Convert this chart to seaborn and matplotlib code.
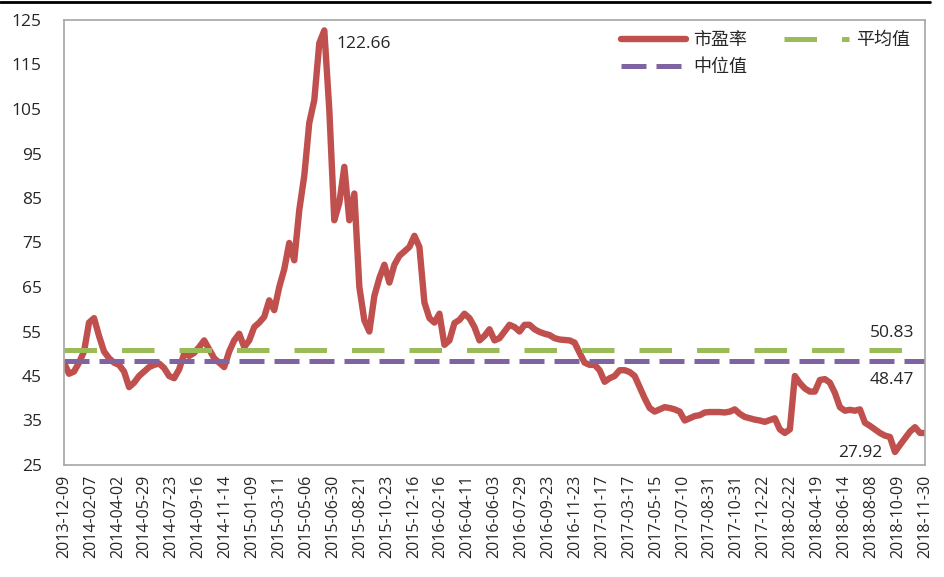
import matplotlib
matplotlib.use('Agg')
import matplotlib.pyplot as plt
from matplotlib.lines import Line2D
import numpy as np
import seaborn as sns

# P/E values, roughly one point per 7 trading days
pe = [48, 45.5, 46, 48, 50.5, 57, 58, 54, 50.5, 49,
      48, 47.5, 46, 42.5, 43.5, 45, 46, 47, 47.5, 47.8,
      46.8, 45, 44.5, 46.5, 50, 49.5, 50.2, 51.5, 53, 51,
      49, 48, 47, 50.5, 53, 54.5, 51.5, 53, 56, 57,
      58.3, 62, 59.8, 65, 69, 74.9, 71, 82.3, 90, 101.9,
      107, 119.8, 122.66, 104.8, 80, 83.9, 92, 80, 86, 65,
      57.5, 55, 63, 67, 70, 66, 70, 72, 73, 74,
      76.5, 74, 61.5, 58, 57, 59, 52, 53, 56.9, 57.6,
      59, 58, 56, 53, 54, 55.5, 53, 53.5, 55, 56.5,
      56, 55, 56.5, 56.5, 55.5, 54.9, 54.5, 54.2, 53.5, 53.2,
      53.1, 53, 52.5, 50.2, 48, 47.5, 47.5, 46.3, 43.7, 44.5,
      45, 46.3, 46.3, 45.9, 45, 42.5, 40, 37.8, 37, 37.5,
      38, 37.8, 37.5, 37, 35, 35.5, 36, 36.2, 36.8, 36.9,
      36.9, 36.9, 36.8, 37, 37.5, 36.5, 35.8, 35.5, 35.2, 35,
      34.7, 35.1, 35.5, 33, 32.2, 33, 45, 43.4, 42.2, 41.5,
      41.5, 44.1, 44.3, 43.5, 41.2, 38, 37.2, 37.4, 37.2, 37.5,
      34.5, 33.8, 33, 32.2, 31.6, 31.3, 27.92, 29.5, 31, 32.5,
      33.5, 32.2, 32.2]

mean_val = 50.83
median_val = 48.47

date_labels = ['2013-12-09', '2014-02-07', '2014-04-02', '2014-05-29', '2014-07-23',
               '2014-09-16', '2014-11-14', '2015-01-09', '2015-03-11', '2015-05-06',
               '2015-06-30', '2015-08-21', '2015-10-23', '2015-12-16', '2016-02-16',
               '2016-04-11', '2016-06-03', '2016-07-29', '2016-09-23', '2016-11-23',
               '2017-01-17', '2017-03-17', '2017-05-15', '2017-07-10', '2017-08-31',
               '2017-10-31', '2017-12-22', '2018-02-22', '2018-04-19', '2018-06-14',
               '2018-08-08', '2018-10-09', '2018-11-30']

sns.set_style('white')
plt.rcParams['font.family'] = ['Open Sans', 'Noto Sans CJK SC', 'DejaVu Sans']

red = '#C0504D'
green = '#9BBB59'
purple = '#8064A2'

x = np.arange(len(pe))
xmax = len(pe) - 1

fig = plt.figure(figsize=(9.45, 5.77), dpi=100)
ax = fig.add_axes([64 / 945, 1 - 465 / 577, (925 - 64) / 945, (465 - 20) / 577])

sns.lineplot(x=x, y=pe, ax=ax, color=red, linewidth=4.6, label='市盈率')
ax.plot([0, xmax], [mean_val, mean_val], color=green, linewidth=3.6,
        dashes=(6.5, 5), label='平均值')
ax.plot([0, xmax], [median_val, median_val], color=purple, linewidth=3.6,
        dashes=(5, 2), label='中位值')

ax.set_xlim(0, xmax)
ax.set_ylim(25, 125)
ax.set_yticks(np.arange(25, 126, 10))
ax.set_xticks(np.linspace(0, xmax, len(date_labels)))
ax.set_xticklabels(date_labels, rotation=90, fontsize=11.5)
ax.tick_params(axis='y', labelsize=12.5, length=0, pad=16)
ax.tick_params(axis='x', length=0, pad=7)

for s in ax.spines.values():
    s.set_color('#A6A6A6')
    s.set_linewidth(1.2)

peak_i = int(np.argmax(pe))
low_i = int(np.argmin(pe))
ax.annotate(f'{pe[peak_i]:.2f}', (peak_i, pe[peak_i]), xytext=(9, -10),
            textcoords='offset points', fontsize=12.5, va='center')
ax.annotate(f'{pe[low_i]:.2f}', (low_i, pe[low_i]), xytext=(-25, -1),
            textcoords='offset points', fontsize=12.5, ha='center', va='center')
ax.annotate(f'{mean_val:.2f}', (xmax, mean_val), xytext=(-8, 12),
            textcoords='offset points', fontsize=12.5, ha='right', va='center')
ax.annotate(f'{median_val:.2f}', (xmax, median_val), xytext=(-8, -14),
            textcoords='offset points', fontsize=12.5, ha='right', va='center')

# column-wise fill: 市盈率 / 中位值 in column one, 平均值 in column two
handles, labels = ax.get_legend_handles_labels()
order = [0, 2, 1]
ax.legend([handles[i] for i in order], [labels[i] for i in order],
          loc='upper right', ncol=2, frameon=False, fontsize=13,
          handlelength=3.6, columnspacing=2.0, handletextpad=0.4,
          borderaxespad=0.2, bbox_to_anchor=(0.995, 1.0))

fig.add_artist(Line2D([0, 930 / 945], [1 - 2 / 577, 1 - 2 / 577], color='black',
                      linewidth=2, transform=fig.transFigure))

fig.savefig('out.png', dpi=100)
